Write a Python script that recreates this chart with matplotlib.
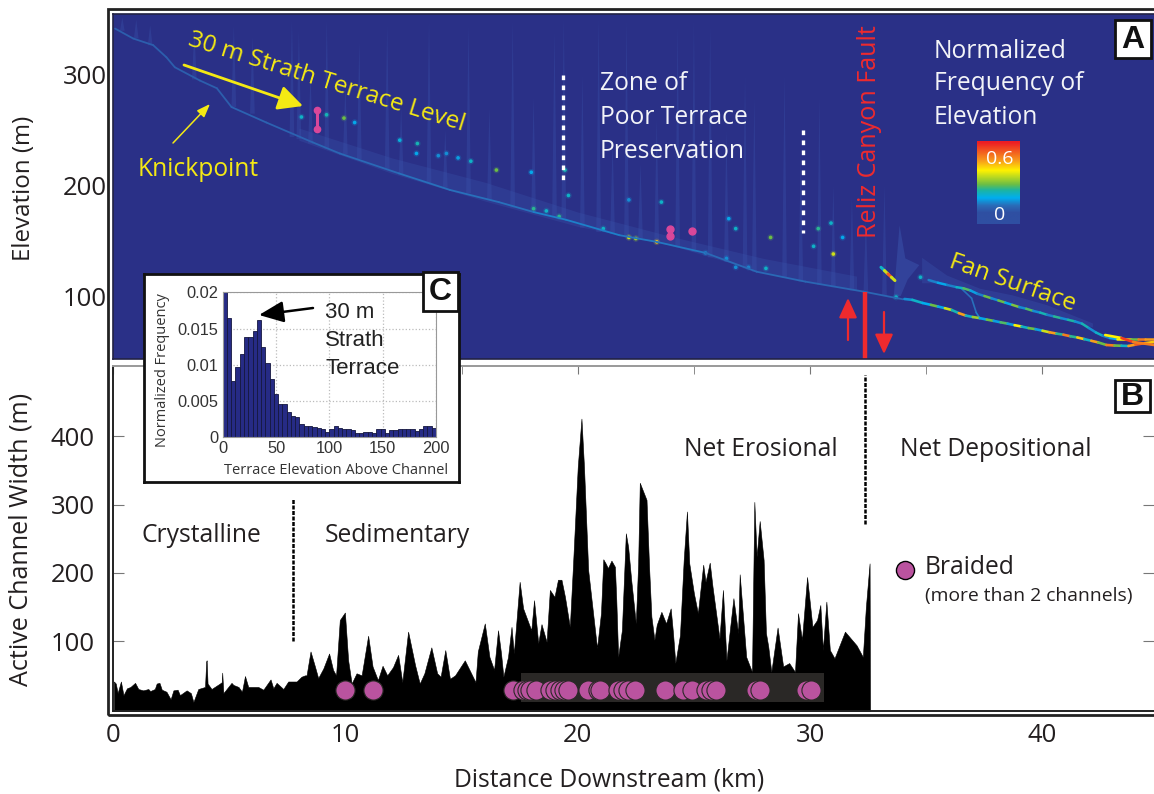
import numpy as np
import matplotlib
matplotlib.use('Agg')
import matplotlib.pyplot as plt
from matplotlib.collections import LineCollection
from matplotlib.colors import LinearSegmentedColormap, Normalize
from matplotlib.patches import Rectangle

W, H = 1154, 794

# panel B, channel width
width_km = [.04, .12, .2, .34, .45, .6, .75, .95, 1.09, 1.3, 1.52, 1.6, 1.8, 1.88, 2.0, 2.1, 2.3, 2.48, 2.6, 2.78,
            2.88, 3.17, 3.35, 3.46, 3.67, 3.96, 4.01, 4.03, 4.07, 4.24, 4.6, 4.68, 4.7, 4.75, 5.1, 5.18, 5.4, 5.55,
            5.68, 5.82, 6.25, 6.47, 6.78, 6.9, 7.04, 7.33, 7.54, 7.9, 8.11, 8.26, 8.33, 8.5, 8.69, 8.83,
            9.05, 9.3, 9.47, 9.6, 9.76, 9.98, 10.12, 10.27, 10.48, 10.7, 10.98, 11.17, 11.4, 11.6, 11.8, 12.05,
            12.27, 12.45, 12.7, 13.0, 13.2, 13.4, 13.7, 13.95, 14.1, 14.3, 14.5, 14.72, 15.14, 15.6, 15.7, 16.0,
            16.2, 16.4, 16.57, 16.7, 16.8, 17.0, 17.15, 17.25, 17.5, 17.65, 18.0, 18.12, 18.3, 18.44, 18.66, 18.8,
            19.0, 19.15, 19.3, 19.45, 19.66, 19.8, 20.0, 20.16, 20.27, 20.45, 20.66, 20.83, 21.0, 21.1, 21.2, 21.3,
            21.45, 21.6, 21.66, 21.74, 21.9, 22.07, 22.17, 22.3, 22.5, 22.6, 22.67, 22.96, 23.07, 23.17, 23.3,
            23.4, 23.6, 23.8, 24.0, 24.1, 24.2, 24.4, 24.56, 24.7, 24.8, 25.0, 25.17, 25.4, 25.5, 25.68, 25.8,
            26.1, 26.25, 26.4, 26.7, 26.9, 26.97, 27.25, 27.5, 27.6, 27.7, 27.83, 28.0, 28.1, 28.2, 28.33, 28.6,
            28.84, 29.1, 29.35, 29.48, 29.65, 29.87, 30.1, 30.3, 30.44, 30.55, 30.7, 30.85, 31.05, 31.5, 32.0,
            32.27, 32.4, 32.56, 32.58]
width_m = [41, 38, 24, 41, 21, 31, 33, 39, 30, 28, 30, 27, 30, 38, 39, 29, 26, 15, 28, 29,
           21, 28, 24, 11, 30, 33, 70, 72, 38, 30, 38, 40, 54, 24, 39, 36, 33, 26,
           49, 33, 33, 29, 44, 31, 39, 30, 41, 41, 48, 50, 50, 85, 63, 46,
           60, 82, 58, 50, 131, 142, 72, 38, 53, 50, 108, 63, 43, 64, 50, 62,
           80, 40, 114, 65, 38, 53, 91, 53, 48, 87, 45, 50, 72, 40, 85, 126,
           77, 58, 116, 82, 48, 77, 121, 82, 187, 148, 116, 160, 97, 125, 99, 175,
           165, 190, 190, 165, 121, 214, 355, 426, 355, 204, 141, 90, 141, 220, 214, 207,
           218, 209, 160, 77, 116, 258, 238, 190, 126, 214, 332, 307, 209, 136, 102,
           124, 143, 126, 148, 112, 68, 109, 219, 290, 214, 170, 141, 212, 187, 215, 180,
           104, 175, 72, 163, 112, 198, 77, 55, 304, 224, 276, 219, 112, 92, 55, 120,
           63, 68, 55, 141, 102, 194, 121, 131, 153, 87, 158, 87, 75, 114, 94,
           77, 150, 214, 0]
braided_km = [10.0, 11.2, 17.22, 17.65, 17.8, 17.94, 18.19, 18.8, 19.01, 19.23, 19.4, 19.58, 20.45, 20.87, 20.95,
              21.73, 21.95, 22.17, 22.48, 23.77, 24.53, 24.92, 25.53, 25.75, 25.96, 27.68, 27.86, 29.83, 30.05]
braided_m = [28] * len(braided_km)
braided_key_km = [34.1]
braided_key_m = [204]

# panel A, river profile and the branches of the fan
profile_km = [.09, .87, 1.73, 2.3, 2.66, 3.74, 4.47, 5.1, 6.6, 8.6, 9.76, 12.3, 14.5, 16.6, 18.1, 19.5, 21.8, 23.4,
              25.5, 27.7, 29.8, 32.3, 34.0]
profile_elev = [342, 333, 327, 316, 307, 295, 288, 271, 257, 239, 229, 211, 196, 185, 176, 169, 155, 149,
                139, 122, 113, 104, 97]
profile_freq = [.04, .04, .04, .04, .04, .04, .04, .05, .05, .06, .07, .08, .08, .08, .1, .1, .09, .09,
                .07, .07, .06, .06, .07]
band_km = [8, 12, 16, 20, 24, 28, 32]
band_low = [241, 211, 186, 163, 146, 121, 105]
band_top = [252, 225, 203, 176, 154, 134, 118]
upper_km = [35.1, 35.5, 35.9, 36.3, 36.6, 36.9, 37.2, 37.5, 37.8, 38.1, 38.4, 38.7, 39, 39.3, 39.6, 39.9, 40.2, 40.5,
            40.8, 41.1, 41.4, 41.7, 42, 42.3, 42.6, 42.9, 43.2, 43.5, 43.8, 44.1, 44.4, 44.8]
upper_elev = [114.5, 112, 110, 108, 107, 105, 102, 100, 98, 96, 94, 92, 90, 88.5, 86.5, 85, 83, 81.5,
              80, 78.5, 77, 75, 71, 67, 64, 62, 61, 61, 61, 61, 61, 61]
upper_freq = [.1, .15, .1, .2, .28, .14, .1, .3, .12, .3, .15, .32, .12, .28, .12, .22, .1, .25,
              .12, .24, .12, .22, .12, .2, .1, .15, .45, .5, .3, .6, .55, .4]
lower_km = [34.06, 34.4, 34.84, 35.2, 35.5, 35.8, 36.1, 36.4, 36.7, 37, 37.3, 37.6, 37.9, 38.2, 38.5, 38.8, 39.1,
            39.4, 39.7, 40, 40.3, 40.6, 40.9, 41.2, 41.5, 41.8, 42.1, 42.4, 42.75, 43.1, 43.4, 43.7, 44, 44.4, 44.8]
lower_elev = [97.3, 96.5, 93.7, 92, 90.5, 89, 87.3, 84.5, 82.3, 81, 80, 78.7, 77.5, 76.2, 75, 73.6, 72.4,
              71, 70, 68.6, 67.2, 66, 65, 63.6, 62.5, 61, 59.5, 58, 55.7, 55.2, 55, 54.8, 56, 57.3, 58.4]
lower_freq = [.12, .2, .16, .3, .15, .4, .22, .55, .2, .35, .15, .3, .14, .28, .14, .45, .2,
              .3, .14, .4, .55, .25, .6, .25, .5, .2, .55, .3, .6, .3, .2, .55, .65, .5, .45]
end_km = [42.7, 43.4, 43.9, 44.8]
end_elev = [64.7, 62, 58.4, 55.7]
end_freq = [.45, .7, .6, .5]
steep_km = [33.05, 33.2, 33.35, 33.5, 33.65]
steep_elev = [126, 123, 120, 117, 114]
steep_freq = [.2, .4, .65, .4, .2]
link_km = [36.5, 36.95, 37.15, 37.3]
link_elev = [107, 98, 85, 80]
link_freq = [.08, .08, .1, .12]
fan_km = [34.8, 35.87, 37.3, 38.7, 40.2, 42.15]
fan_top = [135, 119, 107, 101, 92, 75.6]
fan_low = [112, 112, 101, 92, 83, 72]
wedge_km = [33.6, 33.85, 34.1, 34.7, 34.2, 33.9]
wedge_elev = [100, 164, 134, 128, 115, 100]

spot_km = [8.11, 9.19, 9.94, 10.4, 12.34, 13.1, 13.06, 14, 14.35, 14.85, 15.4, 16.5, 18, 19.45, 19.6, 18.1, 18.65,
           19.2, 21.1, 22.2, 22.5, 23.4, 23.6, 22.2, 26.5, 26.8, 28.3, 30.35, 30.9, 31.4, 30.15, 31, 25.5, 26.4,
           26.8, 27.35, 28.1, 34.75, 33.7]
spot_elev = [262, 264, 261, 257, 241, 238, 229, 227, 229, 225, 222, 214, 212, 214, 191, 179, 177,
             172, 161, 153, 152, 149, 185, 187, 170, 161, 153, 161, 166, 153, 145, 138, 139, 134,
             126, 126, 125, 117, 99]
spot_freq = [.2, .22, .3, .15, .18, .22, .15, .12, .12, .14, .2, .3, .15, .22, .2, .25, .2,
             .25, .2, .4, .35, .5, .2, .12, .15, .2, .3, .25, .2, .15, .2, .4, .1, .12,
             .12, .1, .2, .2, .2]

streak_km = [.4, 1.0, 1.6, 3.5, 5.2, 6.0, 7.7, 8.0, 8.5, 9.2, 10.0, 10.6, 11.8, 12.4, 13.6, 14.3, 15.3, 16.2, 17.2,
             18.1, 19.0, 19.4, 20.2, 20.9, 21.5, 22.1, 22.7, 23.4, 24.3, 25.0, 25.7, 26.4, 27.2, 27.6, 28.9, 29.6,
             30.4, 31.0, 31.8, 32.4, 33.2]
streak_low = [340, 333, 327, 296, 271, 265, 244, 242, 238, 233, 228, 224, 215, 210, 202, 198, 193, 187, 180,
              176, 172, 170, 162, 158, 156, 153, 152, 149, 144, 140, 135, 131, 125, 122, 117, 113,
              110, 108, 105, 103, 100]
streak_high = [352, 350, 345, 340, 345, 335, 350, 340, 300, 350, 290, 330, 345, 270, 350, 250, 345, 270, 350,
               280, 340, 352, 300, 352, 240, 350, 220, 260, 345, 350, 345, 250, 300, 280, 300, 230,
               280, 200, 190, 170, 200]

# panel C, histogram
terrace_edges = np.arange(0, 200, 4)
terrace_freq = [.02, .0165, .0077, .0097, .0115, .0139, .0139, .0147, .0162, .0124, .0102, .008, .006, .0046, .0046,
                .0035, .003, .0028, .0018, .0016, .0015, .0014, .0013, .0011, .0007, .0012, .0016, .0013, .0012,
                .0012, .001, .0006, .0006, .0008, .0008, .0006, .0011, .0012, .0006, .001, .001, .0012, .0011,
                .0012, .0011, .0009, .0011, .0015, .0015, .0013]

YELLOW = '#F4E914'
RED = '#EE2A2E'
PINK = '#BA539F'
NAVY = '#2A3087'
DARK = '#231F20'
FAINT = '#3A55AD'

plt.rcParams['font.family'] = ['Open Sans', 'DejaVu Sans']
freq_cmap = LinearSegmentedColormap.from_list('freq', [
    (0, '#2F4FA2'), (.1, '#2A6CB8'), (.21, '#00AEEF'), (.32, '#1DB5A0'), (.4, '#6CBE45'),
    (.6, '#FFF200'), (.75, '#F7941D'), (1, '#ED1C24')])
freq_norm = Normalize(0, .75)


def axes_px(left, top, right, bottom, **kw):
    return fig.add_axes([left / W, 1 - bottom / H, (right - left) / W, (bottom - top) / H], **kw)


def put(x, y, s, size=17.7, color=DARK, ha='left', **kw):
    return fig.text(x / W, 1 - (y + 4) / H, s, fontsize=size, color=color, ha=ha, va='center',
                    rotation_mode='anchor', **kw)


def arrow(ax, start, end, color, lw, head):
    ax.annotate('', xy=(end[0] / W, 1 - end[1] / H), xytext=(start[0] / W, 1 - start[1] / H),
                xycoords='figure fraction', textcoords='figure fraction', annotation_clip=False,
                arrowprops=dict(arrowstyle=head, color=color, lw=lw, shrinkA=0, shrinkB=0))


def label_box(left, top, right, bottom, s, zorder=4):
    fig.add_artist(Rectangle((left / W, 1 - bottom / H), (right - left) / W, (bottom - top) / H, facecolor='white',
                             edgecolor='#111111', lw=2, transform=fig.transFigure, zorder=zorder))
    put((left + right) / 2, (top + bottom) / 2 - 3, s, size=23, ha='center', color='#111111', weight='bold',
        family='Liberation Sans', zorder=zorder + .1)


def freq_line(ax, km, elev, freq, lw):
    pts = np.column_stack([km, elev])
    segs = np.stack([pts[:-1], pts[1:]], axis=1)
    lc = LineCollection(segs, cmap=freq_cmap, norm=freq_norm, linewidths=lw, capstyle='round')
    lc.set_array(np.array(freq[:-1]))
    ax.add_collection(lc)


fig = plt.figure(figsize=(W / 100, H / 100), dpi=100)

# outer double frame
fig.add_artist(Rectangle((108 / W, 1 - 715 / H), 1100 / W, 706 / H, fill=False, edgecolor='#222222', lw=2,
                         transform=fig.transFigure, zorder=-1))

# panel A
ax_a = axes_px(113, 14, 1154, 359)
ax_a.set_facecolor(NAVY)
ax_a.set_xlim(0, 44.8)
ax_a.set_ylim(43, 355.2)
for km, low, high in zip(streak_km, streak_low, streak_high):
    ax_a.fill([km - .1, km + .1, km], [low, low, high], color=FAINT, alpha=.35, lw=0)
ax_a.fill_between(band_km, band_low, band_top, color=FAINT, alpha=.3, lw=0)
ax_a.fill_between(fan_km, fan_low, fan_top, color=FAINT, alpha=.35, lw=0)
ax_a.fill(wedge_km, wedge_elev, color=FAINT, alpha=.5, lw=0)
freq_line(ax_a, profile_km, profile_elev, profile_freq, 1.3)
freq_line(ax_a, link_km, link_elev, link_freq, 1.2)
freq_line(ax_a, upper_km, upper_elev, upper_freq, 1.8)
freq_line(ax_a, lower_km, lower_elev, lower_freq, 1.9)
freq_line(ax_a, end_km, end_elev, end_freq, 1.9)
freq_line(ax_a, steep_km, steep_elev, steep_freq, 2.2)
ax_a.scatter(spot_km, spot_elev, c=spot_freq, cmap=freq_cmap, norm=freq_norm, s=22, lw=0, alpha=.2)
ax_a.scatter(spot_km, spot_elev, c=spot_freq, cmap=freq_cmap, norm=freq_norm, s=7, lw=0)
ax_a.set_xticks([])
ax_a.set_yticks([100, 200, 300])
ax_a.tick_params(axis='y', length=0, pad=4.5, labelsize=18.5, labelcolor=DARK)
for s in ax_a.spines.values():
    s.set_color('#222244')
    s.set_linewidth(1.2)
ax_a.spines['right'].set_visible(False)

ax_a.plot([8.77, 8.77], [251, 268], color='#D9479A', lw=2.2, marker='o', ms=4.5)
ax_a.plot([23.96, 23.96, 24.9], [161, 154, 158.7], color='#D9479A', ls='none', marker='o', ms=5)

# white dashed zone limits and fault trace are in km and m of panel A
ax_a.plot([19.35, 19.35], [300, 205], color='white', lw=2.4, dashes=(1.4, 1.6))
ax_a.plot([29.68, 29.68], [250, 157], color='white', lw=2.4, dashes=(1.4, 1.6))
ax_a.plot([32.35, 32.35], [104, 43], color=RED, lw=3.2, solid_capstyle='butt')

# panel B
ax_b = axes_px(113, 366, 1154, 711)
ax_b.set_xlim(0, 44.8)
ax_b.set_ylim(-2.2, 503)
ax_b.fill_between(width_km, -3, width_m, color='black', lw=.4)
ax_b.add_patch(Rectangle((17.55, 11), 13.05, 42, color='#2A2826', lw=0, zorder=2))
ax_b.scatter(braided_km, braided_m, s=190, c=PINK, edgecolors='#2A2826', linewidths=.8, zorder=3)
ax_b.scatter(braided_key_km, braided_key_m, s=170, c=PINK, edgecolors='black', linewidths=1, zorder=3)
ax_b.plot([7.75, 7.75], [100, 310], color='black', lw=1.8, dashes=(1.6, .6))
ax_b.plot([32.35, 32.35], [272, 490], color='black', lw=1.8, dashes=(1.6, .6))
ax_b.set_xticks([0, 10, 20, 30, 40])
ax_b.set_xticks(np.arange(5, 45, 5), minor=True)
ax_b.set_yticks([100, 200, 300, 400])
ax_b.tick_params(axis='x', which='both', bottom=False, top=True, direction='in', length=6, color='#777777',
                 pad=9, labelsize=18.5, labelcolor=DARK)
ax_b.tick_params(axis='y', right=True, direction='in', length=8, color='#777777', pad=13, labelsize=18.5,
                 labelcolor=DARK)
for name, s in ax_b.spines.items():
    s.set_color('#999999' if name == 'top' else '#222222')
    s.set_linewidth(1.4)
ax_b.spines['right'].set_visible(False)

# panel C
ax_c_bg = axes_px(144, 274, 459, 482, zorder=5)
ax_c_bg.set_xticks([])
ax_c_bg.set_yticks([])
for s in ax_c_bg.spines.values():
    s.set_linewidth(2)
    s.set_color('#111111')
ax_c = axes_px(222.7, 292.3, 436, 437.3, zorder=6)
ax_c.bar(terrace_edges, terrace_freq, width=4, align='edge', color='#262B85', edgecolor='#15173F', lw=.6)
ax_c.set_xlim(0, 200)
ax_c.set_ylim(0, .02)
ax_c.set_xticks([0, 50, 100, 150, 200])
ax_c.set_yticks([0, .005, .01, .015, .02], ['0', '0.005', '0.01', '0.015', '0.02'])
ax_c.grid(True, ls=':', color='#BBBBBB', lw=.9)
ax_c.set_axisbelow(True)
ax_c.tick_params(length=0, labelsize=11.8, labelcolor='#333333', pad=3)
for lab in ax_c.get_xticklabels() + ax_c.get_yticklabels():
    lab.set_family('Liberation Sans')
for s in ax_c.spines.values():
    s.set_color('#999999')
arrow(ax_c, (313, 308), (259, 315), 'black', 1.8, '-|>,head_width=.65,head_length=1.5')

# text of panel A
put(327, 78, '30 m Strath Terrace Level', 17.5, YELLOW, ha='center', rotation=-17.3)
put(138, 165, 'Knickpoint', color=YELLOW)
arrow(ax_a, (184, 65), (303, 106), YELLOW, 2, '-|>,head_width=.75,head_length=1.5')
arrow(ax_a, (173, 143), (210, 104), YELLOW, 1.1, '-|>,head_width=.3,head_length=.8')
put(600, 80, 'Zone of', color='#F3F4F8')
put(600, 113, 'Poor Terrace', color='#F3F4F8')
put(600, 148, 'Preservation', color='#F3F4F8')
put(934, 47, 'Normalized', color='#F3F4F8')
put(934, 80, 'Frequency of', color='#F3F4F8')
put(934, 113, 'Elevation', color='#F3F4F8')
put(870, 128, 'Reliz Canyon Fault', 18.1, RED, ha='center', rotation=90)
put(1012, 279, 'Fan Surface', 17.5, YELLOW, ha='center', rotation=-19.3)
arrow(ax_a, (848, 340), (848, 298), RED, 1.6, '-|>,head_width=.55,head_length=1.2')
arrow(ax_a, (884, 312), (884, 354), RED, 1.6, '-|>,head_width=.55,head_length=1.2')

ax_bar = axes_px(977, 141, 1020, 224, zorder=2)
ax_bar.imshow(np.linspace(.77, -.118, 200).reshape(-1, 1), cmap=freq_cmap, norm=freq_norm, aspect='auto')
ax_bar.axis('off')
put(1000, 155, '0.6', 14, 'white', ha='center')
put(1000, 211, '0', 14, 'white', ha='center')

# text of panel B
put(201, 531, 'Crystalline', ha='center')
put(397, 531, 'Sedimentary', ha='center')
put(761, 446, 'Net Erosional', ha='center')
put(996, 446, 'Net Depositional', ha='center')
put(925, 564, 'Braided')
put(925, 592, '(more than 2 channels)', 13.9)

put(24, 184, 'Elevation (m)', 17.4, ha='center', rotation=90)
put(21, 535, 'Active Channel Width (m)', 18.1, ha='center', rotation=90)
put(609, 776, 'Distance Downstream (km)', ha='center')

# text of panel C
put(325, 308, '30 m', 16, '#222222', family='Liberation Sans', zorder=7)
put(325, 336, 'Strath', 16, '#222222', family='Liberation Sans', zorder=7)
put(325, 364, 'Terrace', 16, '#222222', family='Liberation Sans', zorder=7)
put(162, 366, 'Normalized Frequency', 10.5, '#333333', ha='center', rotation=90, zorder=7)
put(336, 467, 'Terrace Elevation Above Channel', 10.5, '#333333', ha='center', zorder=7)

label_box(1115, 20, 1151, 58, 'A', 4)
label_box(1115, 380, 1150, 412, 'B', 4)
label_box(423, 272, 458, 311, 'C', 8)

fig.savefig('out.png', dpi=100)
